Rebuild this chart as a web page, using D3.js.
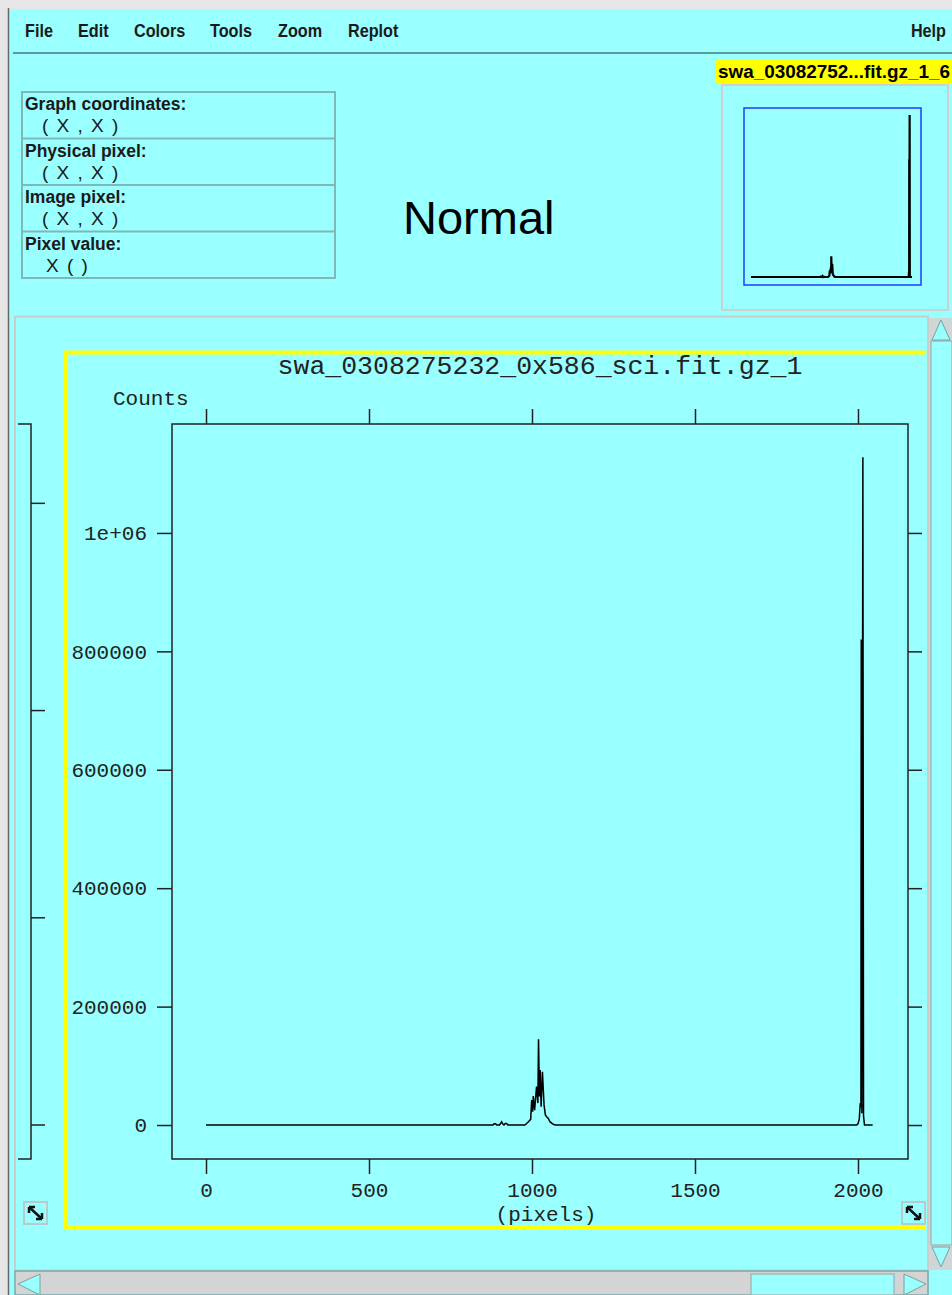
<!DOCTYPE html>
<html>
<head>
<meta charset="utf-8">
<script src="https://cdn.jsdelivr.net/npm/d3@7"></script>
<style>
  html, body { margin: 0; padding: 0; background: #e4e4e4; }
  svg { display: block; }
</style>
</head>
<body>
<div id="vis"></div>
<script>
// spectrum values (channel, counts)
const channels = [0, 880, 884, 888, 892, 900, 904, 907, 910, 914, 918, 922, 926, 978,
  982, 989, 996, 999, 1002, 1004, 1008, 1014, 1018, 1020, 1023, 1025, 1028, 1032, 1037,
  1041, 1045, 1050, 1055, 1063, 1071, 1996, 2000, 2004, 2007, 2009, 2010, 2012, 2015,
  2017, 2020, 2045];
const counts = [0, 0, 2000, 2000, 0, 0, 3000, 5500, 2000, 0, 2500, 2500, 0, 0,
  1700, 5600, 9600, 42000, 22500, 49000, 25000, 65000, 37000, 145000, 48000, 93000, 31000, 90000, 34000,
  17000, 14000, 11000, 5600, 2000, 0, 0, 2000, 10000, 37000, 30000, 820000, 20000, 1128000,
  15000, 0, 0];

const xTicks = [0, 500, 1000, 1500, 2000];
const xTickLabels = ["0", "500", "1000", "1500", "2000"];
const yTicks = [0, 200000, 400000, 600000, 800000, 1000000];
const yTickLabels = ["0", "200000", "400000", "600000", "800000", "1e+06"];
const leftPanelTicks = [0, 350000, 700000, 1050000];

const menuItems = ["File", "Edit", "Colors", "Tools", "Zoom", "Replot"];
const menuX = [25, 78, 134, 210, 278, 348];
const infoLabels = ["Graph coordinates:", "Physical pixel:", "Image pixel:", "Pixel value:"];
const infoValues = ["( X , X )", "( X , X )", "( X , X )", "X ( )"];

const title = "swa_0308275232_0x586_sci.fit.gz_1";
const thumbTitle = "swa_03082752...fit.gz_1_6";

const width = 952, height = 1295;
const cyan = "#99ffff";
const mono = "'Liberation Mono', 'DejaVu Sans Mono', monospace";
const sans = "'Liberation Sans', Arial, sans-serif";

const svg = d3.select("#vis").append("svg")
  .attr("width", width).attr("height", height)
  .attr("viewBox", [0, 0, width, height]);

// window chrome
svg.append("rect").attr("width", width).attr("height", height).attr("fill", "#e6e6e6");
svg.append("rect").attr("x", 10).attr("y", 9).attr("width", width - 10).attr("height", height - 9).attr("fill", cyan);
svg.append("line").attr("x1", 8.5).attr("x2", 8.5).attr("y1", 8).attr("y2", height)
  .attr("stroke", "#666").attr("stroke-width", 1.5);
svg.append("line").attr("x1", 13).attr("x2", width).attr("y1", 53).attr("y2", 53)
  .attr("stroke", "#5a9a9a").attr("stroke-width", 2);

// menu bar (narrow bold)
const menu = svg.append("g")
  .style("font", `bold 18px ${sans}`)
  .attr("fill", "#1a1a1a");
menu.selectAll("text").data(menuItems).join("text")
  .attr("transform", (d, i) => `translate(${menuX[i]},37) scale(0.9,1)`).text(d => d);
menu.append("text").attr("transform", "translate(946,37) scale(0.9,1)")
  .attr("text-anchor", "end").text("Help");

// info panel
const info = svg.append("g");
info.append("rect").attr("x", 22).attr("y", 92).attr("width", 313).attr("height", 186)
  .attr("fill", "none").attr("stroke", "#7fb8b8").attr("stroke-width", 2);
infoLabels.forEach((lab, i) => {
  const y0 = 92 + i * 46.5;
  if (i > 0) info.append("line").attr("x1", 22).attr("x2", 335).attr("y1", y0).attr("y2", y0)
    .attr("stroke", "#7fb8b8").attr("stroke-width", 2);
  info.append("text").attr("x", 25).attr("y", y0 + 18).text(lab)
    .style("font", `bold 17.5px ${sans}`).attr("fill", "#1a1a1a");
  info.append("text").attr("x", i === 3 ? 46 : 42).attr("y", y0 + 40).text(infoValues[i])
    .style("font", `19px ${sans}`).style("word-spacing", "3px").attr("fill", "#1a1a1a");
});

svg.append("text").attr("x", 403).attr("y", 234).text("Normal")
  .style("font", `47px ${sans}`).attr("fill", "#000");

// thumbnail panel
svg.append("rect").attr("x", 722).attr("y", 85).attr("width", 226).attr("height", 225)
  .attr("fill", "none").attr("stroke", "#cfcfcf").attr("stroke-width", 2);
svg.append("rect").attr("x", 716).attr("y", 60).attr("width", 240).attr("height", 24).attr("fill", "#ffff00");
svg.append("text").attr("x", 718).attr("y", 78).text(thumbTitle)
  .attr("textLength", 232).attr("lengthAdjust", "spacingAndGlyphs")
  .style("font", `bold 17.5px ${sans}`).attr("fill", "#000");
svg.append("rect").attr("x", 744).attr("y", 108).attr("width", 177).attr("height", 177)
  .attr("fill", "none").attr("stroke", "#1f3cff").attr("stroke-width", 1.5);
const tx = d3.scaleLinear([0, 2045], [751, 912]);
const ty = d3.scaleLinear([0, 1128000], [277, 115]);
svg.append("path")
  .attr("d", d3.line().x((d, i) => tx(channels[i])).y(d => ty(d))(counts))
  .attr("fill", "none").attr("stroke", "#000").attr("stroke-width", 2.2);

// canvas frame
svg.append("rect").attr("x", 15).attr("y", 316.5).attr("width", 913).attr("height", 954)
  .attr("fill", cyan).attr("stroke", "#cccccc").attr("stroke-width", 2);
svg.append("clipPath").attr("id", "cv").append("rect")
  .attr("x", 16).attr("y", 318).attr("width", 910).attr("height", 951);
const cv = svg.append("g").attr("clip-path", "url(#cv)");

// main plot scales
const x = d3.scaleLinear([-104.3, 2153.4], [172, 908]);
const y = d3.scaleLinear([-57400, 1184000], [1159, 424]);

// neighbour graph on the left, only its edge visible
cv.append("path").attr("d", `M18,${y(1184000)}H31V${y(-57400)}H18`)
  .attr("fill", "none").attr("stroke", "#222").attr("stroke-width", 1.5);
cv.append("g").selectAll("line").data(leftPanelTicks).join("line")
  .attr("x1", 31).attr("x2", 45).attr("y1", d => y(d)).attr("y2", d => y(d))
  .attr("stroke", "#222").attr("stroke-width", 1.5);

// yellow highlight of the current graph
cv.append("rect").attr("x", 66).attr("y", 352.5).attr("width", 900).attr("height", 875.5)
  .attr("fill", "none").attr("stroke", "#ffff00").attr("stroke-width", 4);

cv.append("rect").attr("x", 172).attr("y", 424).attr("width", 736).attr("height", 735)
  .attr("fill", "none").attr("stroke", "#222").attr("stroke-width", 1.5);

function styleAxis(g) {
  g.select(".domain").remove();
  g.selectAll(".tick line").attr("stroke", "#222").attr("stroke-width", 1.5);
  g.selectAll(".tick text").attr("fill", "#222").style("font", `21px ${mono}`);
}

cv.append("g").attr("transform", "translate(172,0)")
  .call(d3.axisLeft(y).tickValues(yTicks).tickSize(15).tickPadding(10)
    .tickFormat((d, i) => yTickLabels[i]))
  .call(styleAxis);
cv.append("g").attr("transform", "translate(908,0)")
  .call(d3.axisRight(y).tickValues(yTicks).tickSize(14).tickFormat(""))
  .call(styleAxis);
cv.append("g").attr("transform", "translate(0,1159)")
  .call(d3.axisBottom(x).tickValues(xTicks).tickSize(15).tickPadding(8)
    .tickFormat((d, i) => xTickLabels[i]))
  .call(styleAxis);
cv.append("g").attr("transform", "translate(0,424)")
  .call(d3.axisTop(x).tickValues(xTicks).tickSize(15).tickFormat(""))
  .call(styleAxis);

cv.append("text").attr("x", 540).attr("y", 374).attr("text-anchor", "middle").text(title)
  .style("font", `26.5px ${mono}`).attr("fill", "#222");
cv.append("text").attr("x", 113).attr("y", 405).text("Counts")
  .style("font", `21px ${mono}`).attr("fill", "#222");
cv.append("text").attr("x", 546).attr("y", 1221).attr("text-anchor", "middle").text("(pixels)")
  .style("font", `21px ${mono}`).attr("fill", "#222");

cv.append("path")
  .attr("d", d3.line().x((d, i) => x(channels[i])).y(d => y(d))(counts))
  .attr("fill", "none").attr("stroke", "#000").attr("stroke-width", 1.5);

// corner resize icons
[24, 902].forEach(ix => {
  const g = cv.append("g").attr("transform", `translate(${ix},1202)`);
  g.append("rect").attr("width", 23).attr("height", 22).attr("fill", cyan)
    .attr("stroke", "#b8caca").attr("stroke-width", 2);
  g.append("path").attr("d", "M5,5L18,17M5,5H11M5,5V11M18,17H12M18,17V11")
    .attr("stroke", "#111").attr("stroke-width", 2.5).attr("fill", "none");
});

// vertical scrollbar
svg.append("rect").attr("x", 929).attr("y", 318).attr("width", 23).attr("height", 952).attr("fill", "#cfd6d6");
svg.append("rect").attr("x", 931).attr("y", 341).attr("width", 21).attr("height", 904)
  .attr("fill", cyan).attr("stroke", "#9fbcbc").attr("stroke-width", 1.5);
svg.append("path").attr("d", "M941,320L932,340H950Z").attr("fill", cyan).attr("stroke", "#7aa0a0");
svg.append("path").attr("d", "M941,1267L932,1247H950Z").attr("fill", cyan).attr("stroke", "#7aa0a0");

// horizontal scrollbar
svg.append("rect").attr("x", 15).attr("y", 1271).attr("width", 913).attr("height", 24)
  .attr("fill", "#d4d4d4").attr("stroke", "#7aa8a8").attr("stroke-width", 1.5);
svg.append("rect").attr("x", 751).attr("y", 1274).attr("width", 143).attr("height", 21)
  .attr("fill", cyan).attr("stroke", "#9fbcbc").attr("stroke-width", 1.5);
svg.append("path").attr("d", "M18,1284L40,1274V1295Z").attr("fill", cyan).attr("stroke", "#7aa0a0");
svg.append("path").attr("d", "M926,1284L904,1274V1295Z").attr("fill", cyan).attr("stroke", "#7aa0a0");
svg.append("rect").attr("x", 929).attr("y", 1271).attr("width", 23).attr("height", 24).attr("fill", cyan);
</script>
</body>
</html>
